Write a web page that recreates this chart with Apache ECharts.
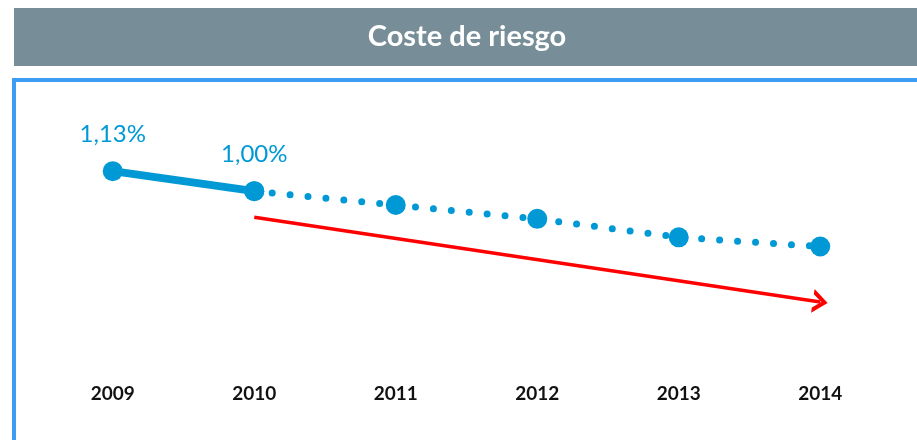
<!DOCTYPE html>
<html>
<head>
<meta charset="utf-8">
<title>Coste de riesgo</title>
<script src="https://cdn.jsdelivr.net/npm/echarts@6/dist/echarts.min.js"></script>
<style>
  html, body { margin: 0; padding: 0; background: #ffffff; }
  #chart { width: 917px; height: 440px; }
</style>
</head>
<body>
<div id="chart"></div>
<script>
// Cost of risk by year: actual (solid) and path to target (dotted)
const years = ['2009', '2010', '2011', '2012', '2013', '2014'];
const actual = [1.13, 1.00, null, null, null, null];
const target = [null, 1.00, 0.91, 0.82, 0.70, 0.64];
const labelledYears = ['2009', '2010'];
// Downward trend arrow: [year, value] start and end
const trendArrow = [['2010', 0.83], ['2014', 0.28]];

const BLUE = '#0099d6';
const fmt = v => v.toFixed(2).replace('.', ',') + '%';
// category names look numeric, so address the axis by index
const toCoord = ([year, v]) => [years.indexOf(year), v];

const chart = echarts.init(document.getElementById('chart'), null, { renderer: 'canvas' });

chart.setOption({
  animation: false,
  backgroundColor: '#ffffff',
  textStyle: { fontFamily: 'Lato' },
  graphic: [
    {
      type: 'rect', z: 0,
      shape: { x: 14, y: 8, width: 910, height: 58 },
      style: { fill: '#778e98' }
    },
    {
      type: 'text', z: 1,
      x: 467, y: 37,
      style: {
        text: 'Coste de riesgo',
        fill: '#ffffff',
        font: 'bold 29px Lato',
        align: 'center',
        verticalAlign: 'middle'
      }
    },
    {
      type: 'rect', z: 0,
      shape: { x: 14, y: 80, width: 1000, height: 500 },
      style: { fill: 'none', stroke: '#3d9cf5', lineWidth: 4 }
    }
  ],
  grid: { left: 42, right: 26, top: 145, height: 200 },
  xAxis: {
    type: 'category',
    data: years,
    boundaryGap: true,
    axisLine: { show: false },
    axisTick: { show: false },
    splitLine: { show: false },
    axisLabel: {
      margin: 39,
      color: '#111111',
      fontWeight: 'bold',
      fontSize: 19,
      fontFamily: 'Lato'
    }
  },
  yAxis: {
    type: 'value',
    min: 0,
    max: 1.3,
    show: false
  },
  series: [
    {
      name: 'Objetivo',
      type: 'line',
      data: target,
      z: 2,
      symbol: 'circle',
      symbolSize: 20,
      itemStyle: { color: BLUE },
      lineStyle: { color: BLUE, width: 7, type: [0, 18], cap: 'round' },
      label: { show: false },
      markLine: {
        silent: true,
        symbol: ['none', 'path://M0,20 L10,0 L20,20 L15.6,20 L10,8.5 L4.4,20 Z'],
        symbolSize: [24, 15],
        label: { show: false },
        lineStyle: { color: '#ff0000', width: 3.5, type: 'solid' },
        data: [[
          { coord: toCoord(trendArrow[0]) },
          { coord: toCoord(trendArrow[1]) }
        ]]
      }
    },
    {
      name: 'Real',
      type: 'line',
      z: 3,
      data: actual.map((v, i) => ({
        value: v,
        label: { show: labelledYears.includes(years[i]) }
      })),
      symbol: 'circle',
      symbolSize: 20,
      itemStyle: { color: BLUE },
      lineStyle: { color: BLUE, width: 8 },
      label: {
        position: 'top',
        distance: 15,
        color: BLUE,
        fontSize: 24,
        fontFamily: 'Lato',
        formatter: p => fmt(p.value)
      }
    }
  ]
});
</script>
</body>
</html>
